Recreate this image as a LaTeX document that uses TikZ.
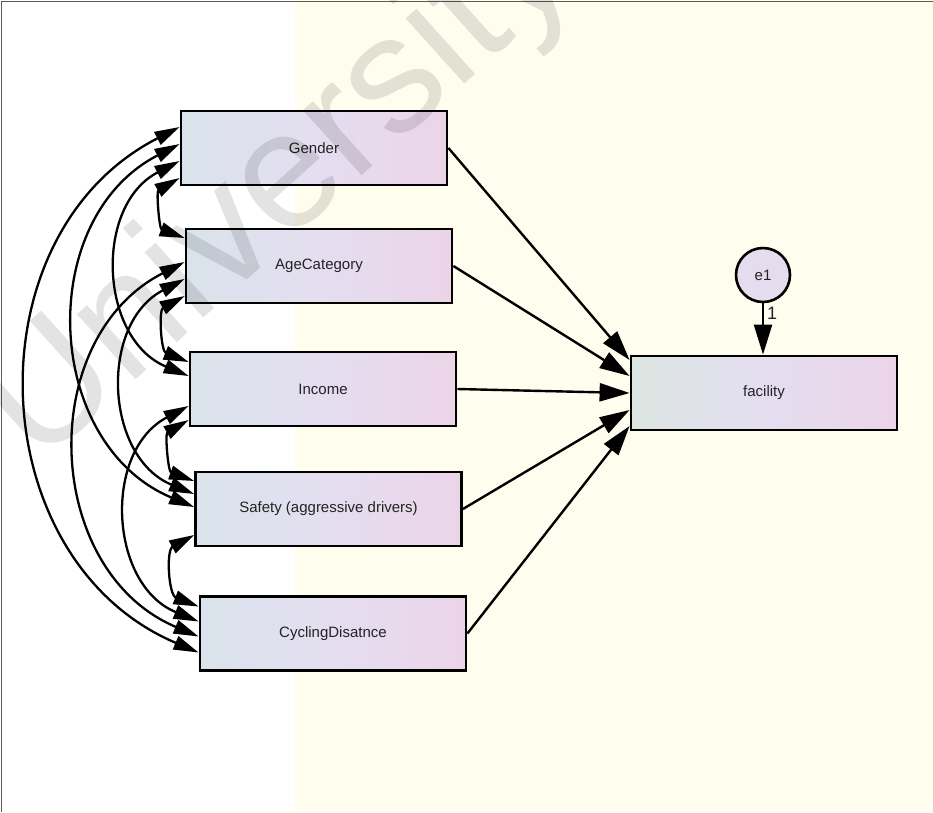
\documentclass[tikz,border=0pt]{standalone}
\usepackage{fontspec}
\setmainfont{Liberation Sans}
\usetikzlibrary{arrows.meta,calc}

\definecolor{bgyellow}{RGB}{254,253,238}
\definecolor{boxL}{RGB}{218,227,235}
\definecolor{boxM}{RGB}{228,222,240}
\definecolor{boxR}{RGB}{236,212,232}
\definecolor{facL}{RGB}{220,230,226}
\definecolor{errfill}{RGB}{229,220,238}
\definecolor{framegray}{RGB}{90,90,90}
\definecolor{labeltext}{RGB}{35,35,35}

\tikzset{
  var/.style={draw=black, line width=2.8pt, minimum width=266pt, minimum height=74pt,
    left color=boxL, right color=boxR, middle color=boxM,
    font=\fontsize{15}{18}\selectfont, text=labeltext, inner sep=0pt},
  facvar/.style={var, left color=facL, right color=boxR, middle color=boxM},
  errnode/.style={circle, draw=black, line width=2.6pt, fill=errfill, minimum size=54pt,
    inner sep=0pt, font=\fontsize{15}{17}\selectfont, text=labeltext},
  regpath/.style={line width=2.4pt, -{Triangle[length=30pt,width=18pt]}},
  covpath/.style={line width=2.3pt,
    {Triangle[length=25pt,width=14pt]}-{Triangle[length=25pt,width=14pt]},
    bend right=65, looseness=1.15},
}

\begin{document}
\begin{tikzpicture}[x=1pt, y=-1pt]
\useasboundingbox (0,0) rectangle (933,812);

% background: white strip on the left, pale yellow canvas on the right
\fill[white] (0,0) rectangle (295,812);
\fill[bgyellow] (295,0) rectangle (933,812);
\draw[framegray, line width=1.2pt] (1.5,812) -- (1.5,1.5) -- (933,1.5);

% observed variables
\node[var] (gen) at (314,148) {Gender};
\node[var] (age) at (319,266) {AgeCategory};
\node[var] (inc) at (323,389) {Income};
\node[var] (saf) at (328.5,509) {Safety (aggressive drivers)};
\node[var] (cyc) at (333,633.5) {CyclingDisatnce};
\node[facvar] (fac) at (764,393) {facility};
\node[errnode] (e1) at (763,275) {e1};

% attachment points for the covariance arcs
\coordinate (g1) at ([yshift=21pt]gen.west);
\coordinate (g2) at ([yshift=4pt]gen.west);
\coordinate (g3) at ([yshift=-13pt]gen.west);
\coordinate (g4) at ([yshift=-30pt]gen.west);
\coordinate (a1) at ([yshift=28pt]age.west);
\coordinate (a2) at ([yshift=4pt]age.west);
\coordinate (a3) at ([yshift=-13pt]age.west);
\coordinate (a4) at ([yshift=-30pt]age.west);
\coordinate (i1) at ([yshift=27pt]inc.west);
\coordinate (i2) at ([yshift=13pt]inc.west);
\coordinate (i3) at ([yshift=-17pt]inc.west);
\coordinate (i4) at ([yshift=-31pt]inc.west);
\coordinate (s1) at ([yshift=28pt]saf.west);
\coordinate (s2) at ([yshift=15pt]saf.west);
\coordinate (s3) at ([yshift=2pt]saf.west);
\coordinate (s4) at ([yshift=-26pt]saf.west);
\coordinate (c1) at ([yshift=27pt]cyc.west);
\coordinate (c2) at ([yshift=12pt]cyc.west);
\coordinate (c3) at ([yshift=-3pt]cyc.west);
\coordinate (c4) at ([yshift=-19pt]cyc.west);

% covariances
\draw[covpath] (g1) to (c4);
\draw[covpath] (g2) to (s3);
\draw[covpath] (g3) to (i2);
\draw[covpath] (g4) to (a1);
\draw[covpath] (a2) to (c3);
\draw[covpath] (a3) to (s2);
\draw[covpath] (a4) to (i1);
\draw[covpath] (i3) to (c2);
\draw[covpath] (i4) to (s1);
\draw[covpath] (s4) to (c1);

% regression paths into facility
\coordinate (f1) at ([yshift=33pt]fac.west);
\coordinate (f2) at ([yshift=17pt]fac.west);
\coordinate (f3) at (fac.west);
\coordinate (f4) at ([yshift=-17pt]fac.west);
\coordinate (f5) at ([yshift=-33pt]fac.west);
\draw[regpath] (gen.east) -- (f1);
\draw[regpath] (age.east) -- (f2);
\draw[regpath] (inc.east) -- (f3);
\draw[regpath] (saf.east) -- (f4);
\draw[regpath] (cyc.east) -- (f5);

% error term
\draw[regpath] (e1) -- (e1 |- fac.north)
  node[pos=0.2, anchor=west, xshift=3pt, inner sep=0pt,
       font=\fontsize{18}{18}\selectfont, text=labeltext] (one) {1};

% faint watermark across the sheet
\begin{scope}
  \clip (0,0) rectangle (933,812);
  \node[rotate=42, anchor=base west, inner sep=0pt, text=black, text opacity=0.11,
        font=\fontsize{166}{166}\selectfont] (wm) at (38,468) {University};
\end{scope}
\end{tikzpicture}
\end{document}
